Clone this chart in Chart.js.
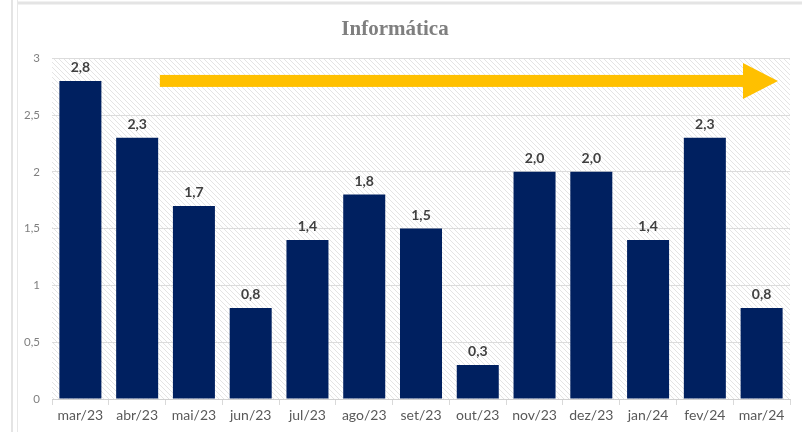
<!DOCTYPE html>
<html>
<head>
<meta charset="utf-8">
<script src="https://cdn.jsdelivr.net/npm/chart.js@4"></script>
<style>
html,body{margin:0;padding:0;background:#fff;}
#wrap{width:802px;height:432px;position:relative;}
</style>
</head>
<body>
<div id="wrap"><canvas id="c" width="802" height="432"></canvas></div>
<script>
const categories = ["mar/23","abr/23","mai/23","jun/23","jul/23","ago/23","set/23","out/23","nov/23","dez/23","jan/24","fev/24","mar/24"];
const values = [2.8, 2.3, 1.7, 0.8, 1.4, 1.8, 1.5, 0.3, 2.0, 2.0, 1.4, 2.3, 0.8];
const yTicks = [0, 0.5, 1, 1.5, 2, 2.5, 3];
const chartTitle = "Informática";

function hatchPattern(ctx){
  const p = document.createElement('canvas');
  p.width = 5; p.height = 5;
  const g = p.getContext('2d');
  g.fillStyle = '#ffffff'; g.fillRect(0,0,5,5);
  g.strokeStyle = '#e4e4e4'; g.lineWidth = 1;
  g.beginPath();
  g.moveTo(0,0); g.lineTo(5,5);
  g.moveTo(-3,2); g.lineTo(3,8);
  g.moveTo(2,-3); g.lineTo(8,3);
  g.stroke();
  return ctx.createPattern(p,'repeat');
}

const bgPlugin = {
  id:'bg',
  beforeDraw(chart){
    const {ctx, chartArea:a} = chart;
    ctx.save();
    ctx.strokeStyle = '#e4e4e4'; ctx.lineWidth = 2;
    ctx.beginPath(); ctx.moveTo(12,0); ctx.lineTo(12,432); ctx.stroke();
    ctx.lineWidth = 3;
    ctx.beginPath(); ctx.moveTo(17,3); ctx.lineTo(802,3); ctx.stroke();
    ctx.lineWidth = 1; ctx.strokeStyle='#e8e8e8';
    ctx.beginPath(); ctx.moveTo(17.5,0); ctx.lineTo(17.5,432); ctx.stroke();
    ctx.fillStyle = hatchPattern(ctx);
    ctx.fillRect(a.left, a.top, a.right-a.left, a.bottom-a.top);
    ctx.restore();
  }
};

const overlayPlugin = {
  id:'overlay',
  afterDatasetsDraw(chart){
    const {ctx, chartArea:a} = chart;
    const meta = chart.getDatasetMeta(0);
    ctx.save();
    ctx.font = 'bold 14px Lato, "Liberation Sans", sans-serif';
    ctx.fillStyle = '#404040';
    ctx.textAlign = 'center';
    ctx.textBaseline = 'alphabetic';
    meta.data.forEach((bar,i)=>{
      const v = values[i];
      ctx.fillText(v.toFixed(1).replace('.',','), bar.x, bar.y - 9);
    });
    // arrow annotation
    const xs = chart.scales.x;
    const y0 = chart.scales.y.getPixelForValue(2.8);
    const x0 = xs.getPixelForValue(1) + 0.4*(xs.getPixelForValue(2)-xs.getPixelForValue(1));
    const xEnd = a.right - 12;
    const head = 35;
    ctx.fillStyle = '#FFC000';
    ctx.fillRect(x0, y0-6, xEnd - head - x0 + 1, 12);
    ctx.beginPath();
    ctx.moveTo(xEnd-head, y0-18);
    ctx.lineTo(xEnd, y0);
    ctx.lineTo(xEnd-head, y0+18);
    ctx.closePath();
    ctx.fill();
    ctx.restore();
  }
};

new Chart(document.getElementById('c'), {
  type:'bar',
  data:{
    labels: categories,
    datasets:[{
      data: values,
      backgroundColor:'#002060',
      borderWidth:0,
      categoryPercentage:1,
      barPercentage:0.74
    }]
  },
  options:{
    responsive:false,
    animation:false,
    devicePixelRatio:1,
    layout:{padding:{left:0,right:12,top:0,bottom:0}},
    plugins:{
      legend:{display:false},
      tooltip:{enabled:false},
      title:{
        display:true,
        text: chartTitle,
        color:'#7f7f7f',
        font:{family:'"Liberation Serif", "DejaVu Serif", serif', size:21, weight:'bold'},
        padding:{top:17, bottom:16}
      }
    },
    scales:{
      x:{
        grid:{display:true, offset:true, drawOnChartArea:false, color:'#d9d9d9', tickLength:6},
        border:{display:true, color:'#d0d0d0'},
        ticks:{color:'#595959', font:{family:'Lato, "Liberation Sans", sans-serif', size:14}, padding:2, maxRotation:0},
        afterFit(s){ s.height = 33; }
      },
      y:{
        min:0, max:3,
        afterBuildTicks(s){ s.ticks = yTicks.map(v=>({value:v})); },
        grid:{color:'#dcdcdc', drawTicks:false},
        border:{display:false},
        ticks:{color:'#7f7f7f', font:{family:'Lato, "Liberation Sans", sans-serif', size:11.5}, padding:12,
          callback:(v)=>String(v).replace('.',',')},
        afterFit(s){ s.width = 52; }
      }
    }
  },
  plugins:[bgPlugin, overlayPlugin]
});
</script>
</body>
</html>
